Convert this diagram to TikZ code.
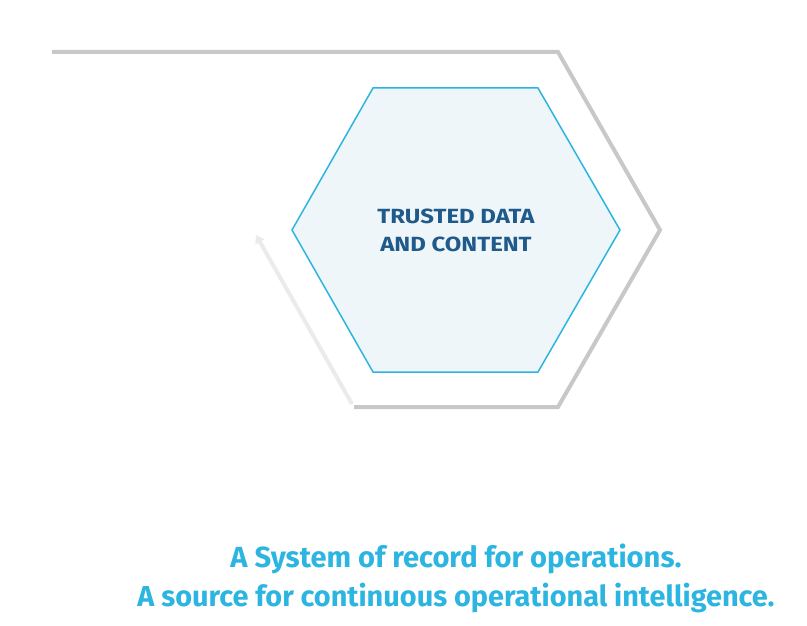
\documentclass[tikz,border=0pt]{standalone}
\usepackage{fontspec}
\setmainfont{Fira Sans}
\usetikzlibrary{arrows.meta}
\definecolor{hexblue}{HTML}{2BB5E0}
\definecolor{hexfill}{HTML}{EEF6FA}
\definecolor{darkblue}{HTML}{1F5A8A}
\definecolor{pathgray}{HTML}{C8C8C8}
\definecolor{lightgray}{HTML}{EBEBEB}
\tikzset{
  outerpath/.style={draw=pathgray, line width=4pt, line join=miter},
  returnarrow/.style={draw=lightgray, line width=4pt, -{Triangle[length=8pt,width=10pt]}},
  hexshape/.style={draw=hexblue, fill=hexfill, line width=1.5pt, line join=miter},
  hexlabel/.style={text=darkblue, font=\fontsize{19}{28}\selectfont\bfseries, align=center},
  caption/.style={text=hexblue, font=\fontsize{29}{39}\selectfont\bfseries, anchor=base}
}
\begin{document}
\begin{tikzpicture}[x=1pt,y=-1pt]
\useasboundingbox (0,0) rectangle (807,626);
% outer gray path
\coordinate (p0) at (52,52);
\coordinate (p1) at (558,52);
\coordinate (p2) at (660,230);
\coordinate (p3) at (558,407);
\coordinate (p4) at (354,407);
\coordinate (a0) at (352,404);
\coordinate (a1) at (256,235);
\draw[outerpath] (p0) -- (p1) -- (p2) -- (p3) -- (p4);
\draw[returnarrow] (a0) -- (a1);
% inner hexagon
\coordinate (h1) at (373,88);
\coordinate (h2) at (538,88);
\coordinate (h3) at (620,230);
\coordinate (h4) at (538,372);
\coordinate (h5) at (373,372);
\coordinate (h6) at (292,230);
\draw[hexshape] (h1) -- (h2) -- (h3) -- (h4) -- (h5) -- (h6) -- cycle;
\node[hexlabel] (lbl) at (456,230) {\scalebox{1.26}[1.08]{TRUSTED DATA}\\\scalebox{1.26}[1.08]{AND CONTENT}};
\node[caption] (c1) at (456,567) {\resizebox{451pt}{!}{A System of record for operations.}};
\node[caption] (c2) at (456,606) {\resizebox{637pt}{!}{A source for continuous operational intelligence.}};
\end{tikzpicture}
\end{document}
